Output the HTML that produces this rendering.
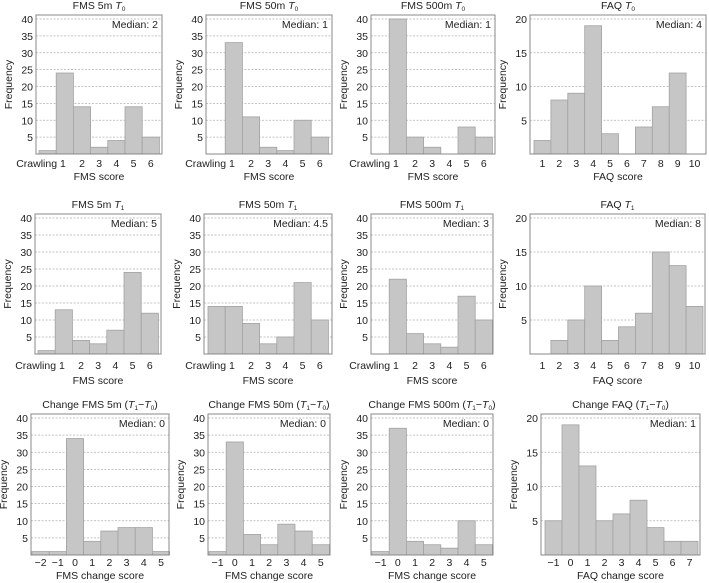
<!DOCTYPE html>
<html><head><meta charset="utf-8"><style>
body{margin:0;background:#fff}
svg{display:block;font-family:"Liberation Sans",sans-serif}
</style></head><body>
<svg id="c" width="709" height="583" viewBox="0 0 709 583"></svg>
<script>
const fms5T0=[1,24,14,2,4,14,5];
const fms50T0=[0,33,11,2,1,10,5];
const fms500T0=[0,40,5,2,0,8,5];
const faqT0=[2,8,9,19,3,0,4,7,12,0];
const fms5T1=[1,13,4,3,7,24,12];
const fms50T1=[14,14,9,3,5,21,10];
const fms500T1=[0,22,6,3,2,17,10];
const faqT1=[0,2,5,10,2,4,6,15,13,7];
const chg5=[1,1,34,4,7,8,8,1];
const chg50=[1,33,6,3,9,7,3];
const chg500=[1,37,4,3,2,10,3];
const chgFaq=[5,19,13,5,6,8,4,2,2];
const fmsCats=["Crawling","1","2","3","4","5","6"];
const faqCats=["1","2","3","4","5","6","7","8","9","10"];
const chg5Cats=["\u22122","\u22121","0","1","2","3","4","5"];
const chgCats=["\u22121","0","1","2","3","4","5"];
const chgFaqCats=["\u22121","0","1","2","3","4","5","6","7"];
const fmsTicks=[5,10,15,20,25,30,35,40];
const faqTicks=[5,10,15,20];
const medians=["2","1","1","4","5","4.5","3","8","0","0","0","1"];

const rows=[{y0:154,y40:19,tick:167,xt:180},{y0:354,y40:218,tick:369,xt:384},{y0:555,y40:418,tick:566,xt:579}];
const panels=[
 {r:0,l:36,rt:162,bs:39,bw:17.2,d:fms5T0,c:fmsCats,yt:fmsTicks,max:40,title:["FMS 5m ","T","0"],xl:"FMS score"},
 {r:0,l:206,rt:332,bs:208,bw:17.2,d:fms50T0,c:fmsCats,yt:fmsTicks,max:40,title:["FMS 50m ","T","0"],xl:"FMS score"},
 {r:0,l:371,rt:495,bs:372,bw:17.2,d:fms500T0,c:fmsCats,yt:fmsTicks,max:40,title:["FMS 500m ","T","0"],xl:"FMS score"},
 {r:0,l:530,rt:706,bs:534,bw:16.9,d:faqT0,c:faqCats,yt:faqTicks,max:20,title:["FAQ ","T","0"],xl:"FAQ score"},
 {r:1,l:35,rt:161,bs:38,bw:17.2,d:fms5T1,c:fmsCats,yt:fmsTicks,max:40,title:["FMS 5m ","T","1"],xl:"FMS score"},
 {r:1,l:204,rt:332,bs:208,bw:17.2,d:fms50T1,c:fmsCats,yt:fmsTicks,max:40,title:["FMS 50m ","T","1"],xl:"FMS score"},
 {r:1,l:371,rt:493,bs:372,bw:17.2,d:fms500T1,c:fmsCats,yt:fmsTicks,max:40,title:["FMS 500m ","T","1"],xl:"FMS score"},
 {r:1,l:530,rt:705,bs:534,bw:16.9,d:faqT1,c:faqCats,yt:faqTicks,max:20,title:["FAQ ","T","1"],xl:"FAQ score"},
 {r:2,l:31,rt:169,bs:32,bw:17.2,d:chg5,c:chg5Cats,yt:fmsTicks,max:40,title:["Change FMS 5m (","T","1","\u2212","T","0",")"],xl:"FMS change score"},
 {r:2,l:208,rt:330,bs:209,bw:17.2,d:chg50,c:chgCats,yt:fmsTicks,max:40,title:["Change FMS  50m (","T","1","\u2212","T","0",")"],xl:"FMS change score"},
 {r:2,l:371,rt:493,bs:372,bw:17.2,d:chg500,c:chgCats,yt:fmsTicks,max:40,title:["Change FMS 500m (","T","1","\u2212","T","0",")"],xl:"FMS change score"},
 {r:2,l:541,rt:700,bs:545,bw:17,d:chgFaq,c:chgFaqCats,yt:faqTicks,max:20,title:["Change FAQ (","T","1","\u2212","T","0",")"],xl:"FAQ change score"}
];
const NS="http://www.w3.org/2000/svg";
const svg=document.getElementById('c');
function mk(tag,at,parent){const e=document.createElementNS(NS,tag);for(const k in at)e.setAttribute(k,at[k]);(parent||svg).appendChild(e);return e;}
const FS=10.5;
panels.forEach((p,i)=>{
 const row=rows[p.r];
 const BW=p.bw;
 const g=mk('g',{});
 
 
 const y=v=>row.y0-(row.y0-row.y40)*v/p.max;
 const top=row.y40-4;
 p.yt.forEach(v=>{
  const ln=mk('line',{x1:p.l,x2:p.rt,y1:y(v),y2:y(v),stroke:'#b0b0b0','stroke-width':0.7,'stroke-dasharray':'2,1.5'},g);
  
  
  const t=mk('text',{x:p.l-3,y:y(v)+4,'text-anchor':'end','font-size':FS,fill:'#222'},g);
  t.textContent=v;
  
  
 });
 p.d.forEach((v,k)=>{
  if(v<=0)return;
  const r=mk('rect',{x:p.bs+k*BW,y:y(v),width:BW,height:row.y0-y(v),fill:'#c6c6c6',stroke:'#a2a2a2','stroke-width':0.8},g);
  
  
 });
 p.c.forEach((c,k)=>{
  const cx=p.bs+k*BW+BW/2;
  if(c==="Crawling")return;
  let t;
  if(p.c[0]==="Crawling"&&k===1){
   t=mk('text',{x:cx+1,y:row.tick,'text-anchor':'end','font-size':FS,fill:'#222'},g);
   t.textContent="Crawling 1";
  }else{
   t=mk('text',{x:cx,y:row.tick,'text-anchor':'middle','font-size':FS,fill:'#222'},g);
   t.textContent=c;
  }
  
  
 });
 const fr=mk('rect',{x:p.l,y:top,width:p.rt-p.l,height:row.y0-top,fill:'none',stroke:'#888','stroke-width':1},g);
 
 
 const md=mk('text',{x:p.rt-4,y:top+13,'text-anchor':'end','font-size':FS,fill:'#222'},g);
 md.textContent="Median: "+medians[i];
 
 
 const tt=mk('text',{x:(p.l+p.rt)/2,y:top-6,'text-anchor':'middle','font-size':FS,fill:'#222'},g);
 
 
 const parts=p.title;
 for(let j=0;j<parts.length;j++){
  const s=parts[j];
  if(s==="T"){
   const ts=mk('tspan',{'font-style':'italic'},tt);ts.textContent="T";
   const sub=mk('tspan',{'font-size':6.5,dy:2},tt);sub.textContent=parts[j+1];
   const back=mk('tspan',{dy:-2,'font-size':1},tt);back.textContent="\u200b";j++;
  } else {const ts=mk('tspan',{},tt);ts.textContent=s;}
 }
 const xt=mk('text',{x:(p.l+p.rt)/2,y:row.xt,'text-anchor':'middle','font-size':FS,fill:'#222'},g);
 xt.textContent=p.xl;
 
 
 const yx=p.l-24, yy=(top+row.y0)/2;
 const yl=mk('text',{x:yx,y:yy,'text-anchor':'middle','font-size':FS,fill:'#222',transform:`rotate(-90 ${yx} ${yy})`},g);
 yl.textContent="Frequency";
 
 
});
</script>
</body></html>
